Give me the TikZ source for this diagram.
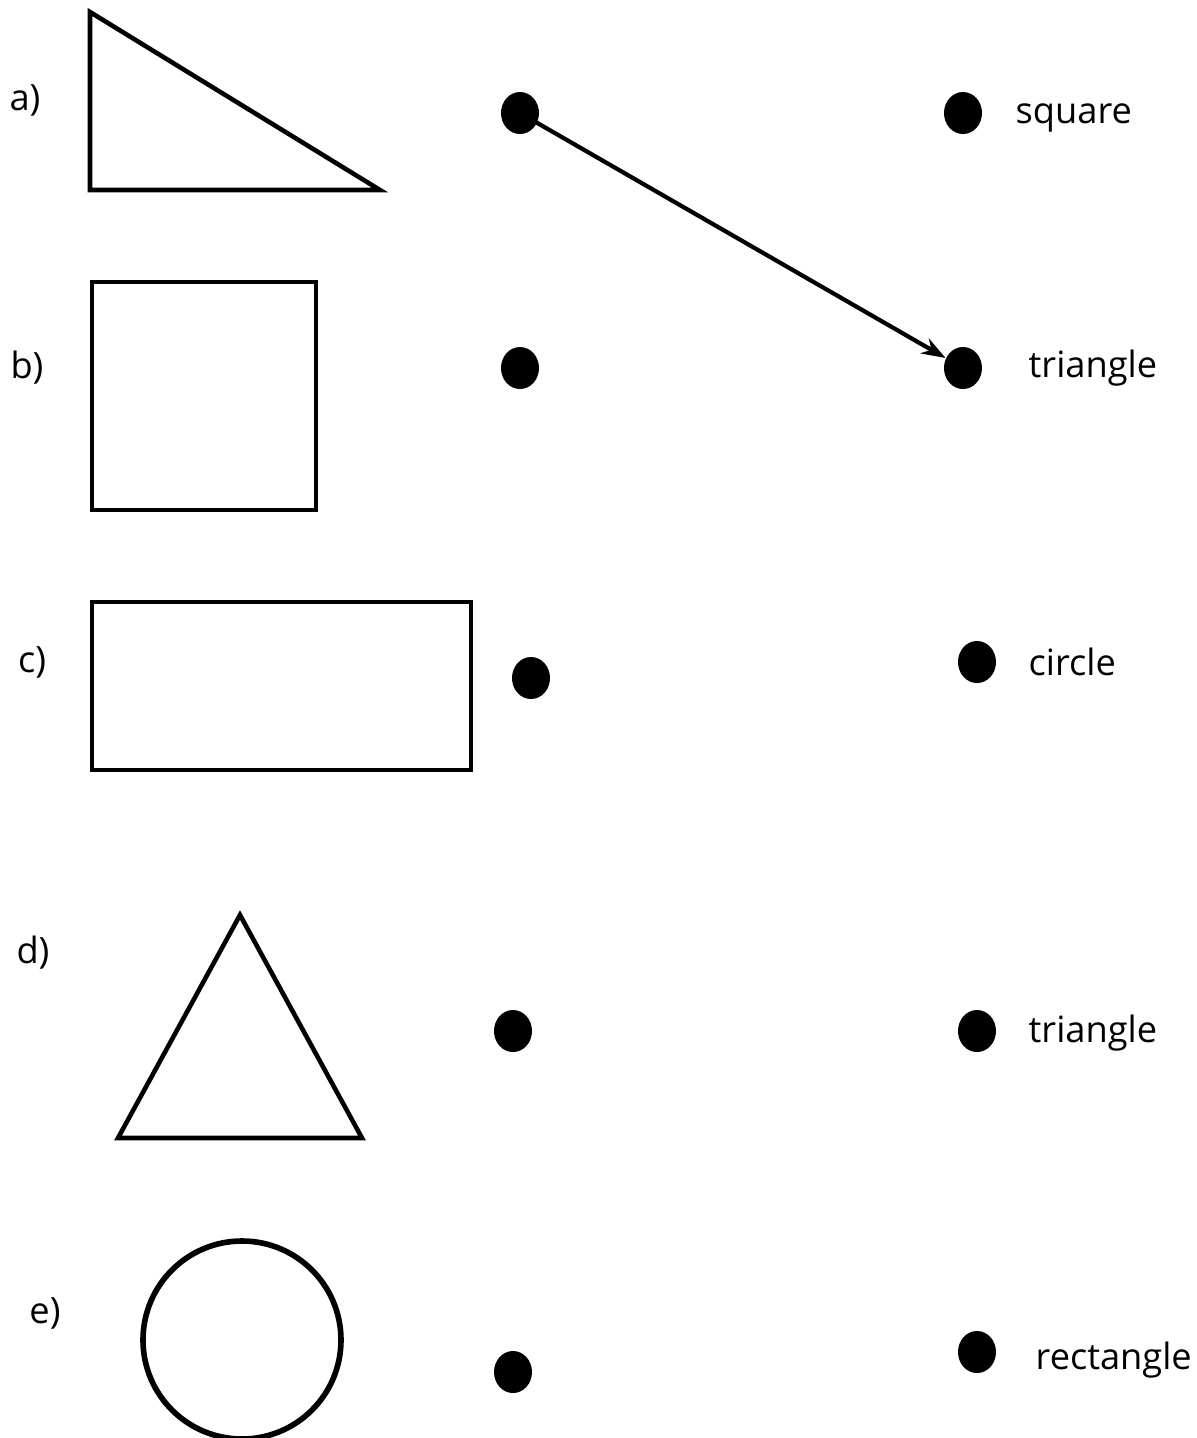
\documentclass[tikz,border=0pt]{standalone}
\usepackage{fontspec}
\setmainfont{Open Sans}
\usetikzlibrary{arrows.meta, shapes.geometric, positioning}
\tikzset{
  shapeline/.style={draw=black, line width=1.3pt},
  matchdot/.style={
    ellipse, fill=black, inner sep=0pt,
    minimum width=0.38cm, minimum height=0.42cm
  },
  wordlabel/.style={
    font=\fontsize{10.3}{12}\selectfont, anchor=west, inner sep=0pt
  },
  itemlabel/.style={
    font=\fontsize{10.3}{12}\selectfont, inner sep=0pt
  },
  matcharrow/.style={-{Stealth[length=0.24cm, width=0.17cm]}, line width=1.2pt},
}

\begin{document}
\begin{tikzpicture}[x=0.01cm, y=-0.01cm]
      \useasboundingbox (0,0) rectangle (1197,1438);
      % item labels
      \node[itemlabel](la) at (25,100)  {a)};
      \node[itemlabel](lb) at (27,368)  {b)};
      \node[itemlabel](lc) at (32,662)  {c)};
      \node[itemlabel](ld) at (33,953)  {d)};
      \node[itemlabel](le) at (45,1313) {e)};
      % shapes
      \draw[shapeline] (90,12) -- (90,190) -- (380,190) -- cycle;
      \draw[shapeline] (92,282) rectangle (316,510);
      \draw[shapeline] (92,602) rectangle (471,770);
      \draw[shapeline] (240,915) -- (362,1138) -- (118,1138) -- cycle;
      \draw[shapeline, line width=1.6pt] (242,1340) circle [radius=99];
      % left dots
      \node[matchdot](p1) at (520,113)  {};
      \node[matchdot](p2) at (520,368)  {};
      \node[matchdot](p3) at (531,678)  {};
      \node[matchdot](p4) at (513,1031) {};
      \node[matchdot](p5) at (513,1372) {};
      % right dots
      \node[matchdot](q1) at (963,113)  {};
      \node[matchdot](q2) at (963,368)  {};
      \node[matchdot](q3) at (977,662)  {};
      \node[matchdot](q4) at (977,1031) {};
      \node[matchdot](q5) at (977,1352) {};
      % words
      \node[wordlabel](w1) at (1015,118)  {square};
      \node[wordlabel](w2) at (1028,368)  {triangle};
      \node[wordlabel](w3) at (1028,662)  {circle};
      \node[wordlabel](w4) at (1028,1033) {triangle};
      \node[wordlabel](w5) at (1035,1360) {rectangle};
      \draw[matcharrow](p1.center)--(q2);
    \end{tikzpicture}
\end{document}
